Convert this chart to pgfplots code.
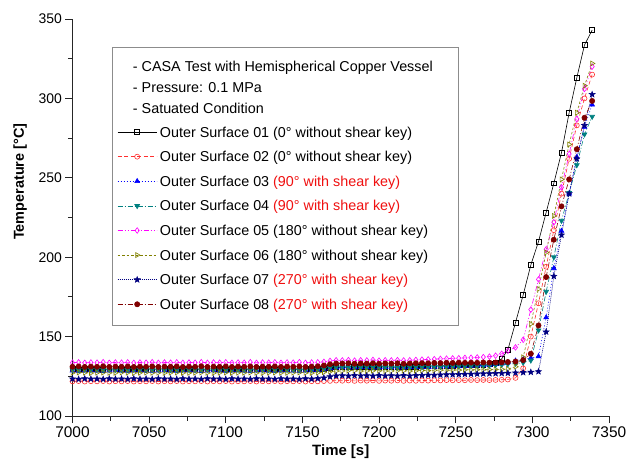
\documentclass[border=0pt]{standalone}
\usepackage{fontspec}
\setmainfont{Liberation Sans}
\usepackage{pgfplots}
\usepackage{pgfplotstable}
\pgfplotsset{compat=1.18}
\usetikzlibrary{plotmarks}

\definecolor{c02}{HTML}{FF3030}
\definecolor{c03}{HTML}{0000FF}
\definecolor{c04}{HTML}{008080}
\definecolor{c05}{HTML}{FF00FF}
\definecolor{c06}{HTML}{808000}
\definecolor{c07}{HTML}{000080}
\definecolor{c08}{HTML}{800000}
\definecolor{keyred}{HTML}{F01010}

% filled five-pointed star
\pgfdeclareplotmark{fstar}{%
  \pgfpathmoveto{\pgfpointpolar{90}{\pgfplotmarksize}}%
  \pgfpathlineto{\pgfpointpolar{126}{0.42\pgfplotmarksize}}%
  \pgfpathlineto{\pgfpointpolar{162}{\pgfplotmarksize}}%
  \pgfpathlineto{\pgfpointpolar{198}{0.42\pgfplotmarksize}}%
  \pgfpathlineto{\pgfpointpolar{234}{\pgfplotmarksize}}%
  \pgfpathlineto{\pgfpointpolar{270}{0.42\pgfplotmarksize}}%
  \pgfpathlineto{\pgfpointpolar{306}{\pgfplotmarksize}}%
  \pgfpathlineto{\pgfpointpolar{342}{0.42\pgfplotmarksize}}%
  \pgfpathlineto{\pgfpointpolar{18}{\pgfplotmarksize}}%
  \pgfpathlineto{\pgfpointpolar{54}{0.42\pgfplotmarksize}}%
  \pgfpathclose
  \pgfusepathqfillstroke
}

\tikzset{
  hdr/.style={text height=15.3bp, text depth=6bp},
  ser/.style={text height=17.3bp, text depth=7.3bp},
}

% a..h = Outer Surface 01..08
\pgfplotstableread{
t a b c d e f g h
7000 129.6 121.8 128.6 129.2 133.6 127.2 123.4 131.0
7004 129.4 122.0 128.4 129.0 133.8 127.4 123.2 131.2
7008 129.5 121.7 128.5 129.3 133.5 127.3 123.5 130.9
7012 129.7 121.9 128.7 129.1 133.7 127.1 123.3 131.1
7016 129.5 121.8 128.5 129.2 133.6 127.3 123.4 131.0
7020 129.3 122.0 128.4 129.0 133.9 127.4 123.2 131.3
7024 129.6 121.7 128.6 129.3 133.5 127.2 123.5 130.9
7028 129.6 121.9 128.7 129.2 133.7 127.2 123.3 131.1
7032 129.4 121.8 128.5 129.1 133.6 127.4 123.4 131.0
7036 129.5 122.0 128.4 129.0 133.8 127.3 123.2 131.2
7040 129.7 121.7 128.6 129.3 133.5 127.1 123.5 130.9
7044 129.5 121.9 128.7 129.1 133.7 127.3 123.3 131.1
7048 129.4 121.8 128.5 129.2 133.6 127.4 123.4 131.0
7052 129.6 122.0 128.4 129.0 133.9 127.2 123.2 131.2
7056 129.5 121.7 128.6 129.3 133.5 127.3 123.5 130.9
7060 129.7 121.9 128.7 129.2 133.7 127.1 123.3 131.1
7064 129.5 121.8 128.5 129.1 133.6 127.3 123.4 131.0
7068 129.4 122.0 128.4 129.0 133.8 127.4 123.2 131.2
7072 129.6 121.7 128.6 129.3 133.5 127.2 123.5 130.9
7076 129.6 121.9 128.7 129.1 133.7 127.2 123.3 131.1
7080 129.5 121.8 128.5 129.2 133.6 127.3 123.4 131.0
7084 129.3 122.0 128.4 129.0 133.9 127.4 123.2 131.3
7088 129.6 121.7 128.6 129.3 133.5 127.2 123.5 130.9
7092 129.7 121.9 128.7 129.2 133.7 127.1 123.3 131.1
7096 129.5 121.8 128.5 129.1 133.6 127.3 123.4 131.0
7100 129.4 122.0 128.4 129.0 133.8 127.4 123.2 131.2
7104 129.6 121.7 128.6 129.3 133.5 127.2 123.5 130.9
7108 129.5 121.9 128.7 129.1 133.7 127.3 123.3 131.1
7112 129.5 121.8 128.5 129.2 133.6 127.3 123.4 131.0
7116 129.4 122.0 128.4 129.0 133.9 127.4 123.2 131.2
7120 129.6 121.7 128.6 129.3 133.5 127.2 123.5 130.9
7124 129.7 121.9 128.7 129.2 133.7 127.1 123.3 131.1
7128 129.5 121.8 128.5 129.1 133.6 127.3 123.4 131.0
7132 129.4 122.0 128.4 129.0 133.8 127.4 123.2 131.2
7136 129.6 121.7 128.6 129.3 133.5 127.2 123.5 130.9
7140 129.6 121.9 128.7 129.1 133.7 127.2 123.3 131.1
7144 129.5 121.8 128.5 129.2 133.6 127.3 123.4 131.0
7148 129.4 122.0 128.4 129.0 133.9 127.4 123.2 131.2
7152 129.6 121.7 128.6 129.3 133.5 127.2 123.5 130.9
7156 129.7 121.9 128.7 129.2 133.7 127.1 123.3 131.1
7160 129.6 121.8 128.8 129.4 133.8 127.3 123.6 131.3
7164 129.9 122.0 129.2 129.7 134.1 127.6 124.0 131.8
7168 130.5 122.1 130.0 130.3 134.7 128.0 124.8 132.6
7172 130.9 122.3 130.5 130.7 135.1 128.3 125.3 133.0
7176 131.0 122.2 130.6 130.8 135.0 128.4 125.4 133.1
7180 130.8 122.4 130.4 130.6 135.2 128.6 125.2 133.2
7184 131.1 122.1 130.5 130.9 134.9 128.5 125.5 132.9
7188 130.9 122.3 130.7 130.7 135.1 128.3 125.3 133.1
7192 131.0 122.2 130.6 130.8 135.0 128.4 125.4 133.0
7196 130.8 122.4 130.4 130.6 135.3 128.6 125.2 133.2
7200 131.1 122.1 130.5 130.9 134.9 128.5 125.5 132.9
7204 130.9 122.3 130.7 130.8 135.1 128.3 125.3 133.1
7208 131.0 122.2 130.6 130.7 135.0 128.4 125.4 133.0
7212 130.8 122.4 130.4 130.6 135.2 128.6 125.2 133.2
7216 131.1 122.1 130.5 130.9 135.0 128.5 125.5 132.9
7220 131.0 122.3 130.7 130.7 135.1 128.3 125.3 133.1
7224 131.2 122.2 130.7 130.9 135.3 128.5 125.5 133.2
7228 131.3 122.4 130.6 130.8 135.5 128.7 125.6 133.3
7232 131.5 122.3 130.8 131.0 135.6 128.6 125.8 133.2
7236 131.4 122.5 130.9 131.1 135.8 128.8 125.7 133.4
7240 131.6 122.4 131.0 131.0 136.0 128.9 125.9 133.3
7244 131.7 122.6 131.1 131.2 136.1 128.8 126.0 133.5
7248 131.8 122.5 131.0 131.3 136.3 129.0 126.1 133.4
7252 131.9 122.6 131.2 131.2 136.4 128.9 126.2 133.6
7256 132.0 122.5 131.3 131.4 136.6 129.1 126.3 133.5
7260 132.1 122.7 131.5 131.5 136.7 129.0 126.4 133.6
7264 132.2 122.6 131.7 131.6 136.9 129.2 126.5 133.5
7268 132.4 122.7 131.9 131.7 137.1 129.1 126.6 133.7
7272 132.8 122.6 132.2 131.8 137.4 129.2 126.7 133.6
7276 133.6 122.7 132.6 132.0 138.0 129.3 126.8 133.7
7280 136.0 122.8 133.0 132.2 139.2 129.4 126.9 133.8
7284 141.6 123.0 133.8 132.6 141.0 129.6 127.0 134.0
7289 158.8 124.0 134.8 133.0 143.2 131.0 127.2 134.3
7294 176.2 130.0 135.6 133.6 148.0 137.0 127.4 135.2
7299 195.1 150.0 136.5 135.0 167.0 158.0 127.6 139.2
7304 209.8 171.0 137.5 154.0 186.0 180.0 128.0 157.0
7309 228.2 194.0 162.0 178.3 205.0 203.0 153.0 187.5
7314 246.5 217.0 193.0 200.0 222.0 226.0 188.0 211.0
7319 265.8 240.0 216.5 223.0 244.0 249.0 214.0 232.0
7324 291.0 262.0 240.0 240.5 265.0 271.0 240.0 249.0
7329 313.0 283.0 263.0 258.0 287.0 291.0 262.0 268.0
7334 333.6 300.0 282.0 277.4 306.0 308.0 283.0 287.8
7339 343.0 315.0 296.0 288.5 320.0 322.0 302.5 298.4
}\surfdata

\begin{document}
\begin{tikzpicture}
\useasboundingbox (-72.5bp,-47bp) rectangle (554.5bp,416bp);
\begin{axis}[
    scale only axis,
    width=536.5bp, height=397bp,
    xmin=7000, xmax=7350,
    ymin=100, ymax=350,
    axis x line*=bottom,
    axis y line*=left,
    axis line style={line width=1bp, black!85},
    xtick={7000,7050,...,7350},
    ytick={100,150,...,350},
    minor x tick num=1,
    minor y tick num=1,
    tick align=outside,
    major tick length=7bp,
    minor tick length=4.5bp,
    tick style={line width=0.9bp, black!85},
    scaled x ticks=false,
    /pgf/number format/1000 sep={},
    /pgf/number format/assume math mode=true,
    xticklabel style={font=\fontsize{15.5}{15.5}\selectfont},
    yticklabel style={font=\fontsize{14}{14}\selectfont},
    xlabel={Time [s]},
    ylabel={Temperature [°C]},
    xlabel style={font=\bfseries\fontsize{15}{15}\selectfont},
    ylabel style={font=\bfseries\fontsize{14.5}{14.5}\selectfont, at={(ticklabel cs:0.59)}},
    ylabel shift=5bp,
    clip=false,
    every axis plot/.append style={line width=0.6bp},
    legend image code/.code={%
        \draw[mark repeat=2,mark phase=2] plot coordinates {(0bp,0bp) (19.5bp,0bp) (39bp,0bp)};},
    legend cell align=left,
    legend style={at={(0.0736,0.9295)}, anchor=north west,
        draw=black!45, line width=0.8bp, fill=white,
        inner xsep=5bp, inner ysep=8.5bp, row sep=0pt, column sep=3bp,
        nodes={inner sep=0pt},
        font=\fontsize{14.4}{15}\selectfont},
]
\addlegendimage{empty legend}
\addlegendentry[hdr]{\hspace*{-27bp}- CASA Test with Hemispherical Copper Vessel\hspace*{21bp}}
\addlegendimage{empty legend}
\addlegendentry[hdr]{\hspace*{-27bp}- Pressure: 0.1 MPa}
\addlegendimage{empty legend}
\addlegendentry[hdr]{\hspace*{-27bp}- Satuated Condition}

\addplot[black, mark=square, mark size=2.4bp, mark options={solid, fill=white}]
    table[x=t, y=a]{\surfdata};
\addlegendentry[ser]{Outer Surface 01 (0° without shear key)}
\addplot[c02, dash pattern=on 4bp off 2.5bp, mark=o, mark size=2.5bp, mark options={solid, fill=white}]
    table[x=t, y=b]{\surfdata};
\addlegendentry[ser]{Outer Surface 02 (0° without shear key)}
\addplot[c03, dash pattern=on 1bp off 2bp, mark=triangle*, mark size=2.8bp, mark options={solid}]
    table[x=t, y=c]{\surfdata};
\addlegendentry[ser]{Outer Surface 03 \textcolor{keyred}{(90° with shear key)}}
\addplot[c04, dash pattern=on 5bp off 2bp on 1bp off 2bp, mark=triangle*, mark size=2.8bp, mark options={solid, rotate=180}]
    table[x=t, y=d]{\surfdata};
\addlegendentry[ser]{Outer Surface 04 \textcolor{keyred}{(90° with shear key)}}
\addplot[c05, dash pattern=on 5bp off 2bp on 1bp off 2bp on 1bp off 2bp, mark=diamond, mark size=2.8bp, mark options={solid, fill=white}]
    table[x=t, y=e]{\surfdata};
\addlegendentry[ser]{Outer Surface 05 (180° without shear key)}
\addplot[c06, dash pattern=on 2.5bp off 2bp, mark=triangle, mark size=2.8bp, mark options={solid, fill=white, rotate=-90}]
    table[x=t, y=f]{\surfdata};
\addlegendentry[ser]{Outer Surface 06 (180° without shear key)}
\addplot[c07, dash pattern=on 1bp off 1bp, mark=fstar, mark size=3bp, mark options={solid}]
    table[x=t, y=g]{\surfdata};
\addlegendentry[ser]{Outer Surface 07 \textcolor{keyred}{(270° with shear key)}}
\addplot[c08, dash pattern=on 5bp off 2bp on 1bp off 2bp, mark=*, mark size=2.6bp, mark options={solid}]
    table[x=t, y=h]{\surfdata};
\addlegendentry[ser]{Outer Surface 08 \textcolor{keyred}{(270° with shear key)}}
\end{axis}
\end{tikzpicture}
\end{document}
